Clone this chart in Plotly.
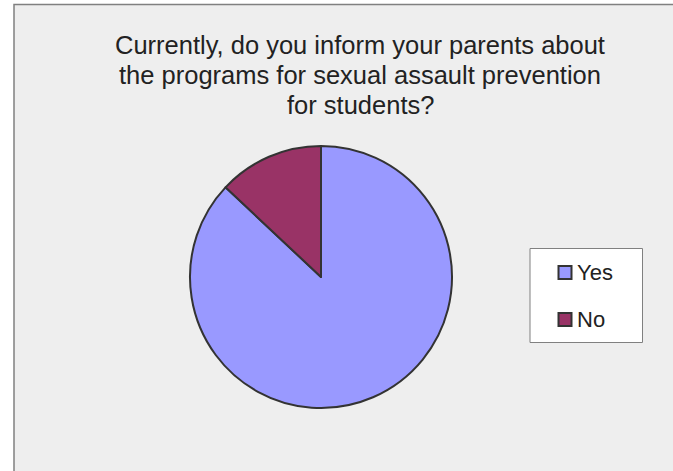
import plotly.graph_objects as go

labels = ["Yes", "No"]
values = [87, 13]
colors = ["#9999FF", "#993366"]
title_lines = ["Currently, do you inform your parents about",
               "the programs for sexual assault prevention",
               "for students?"]

W, H = 673, 471
def px(x): return x / W
def py(y): return 1 - y / H

fig = go.Figure()
fig.add_trace(go.Pie(
    labels=labels, values=values, sort=False, direction="clockwise", rotation=0,
    marker=dict(colors=colors, line=dict(color="#333333", width=2)),
    textinfo="none", hoverinfo="label+percent", showlegend=False,
    domain=dict(x=[px(190), px(452)], y=[py(408), py(146)]),
))

shapes = [
    dict(type="rect", xref="paper", yref="paper", x0=px(14), x1=1.05, y0=-0.05, y1=py(4.5),
         fillcolor="#EEEEEE", line=dict(color="#808080", width=1.5), layer="below"),
    dict(type="rect", xref="paper", yref="paper", x0=px(530), x1=px(642.5), y0=py(342.5), y1=py(248.5),
         fillcolor="#FFFFFF", line=dict(color="#808080", width=1), layer="below"),
]
annotations = []
item_y = [272.5, 319.5]
for lab, col, yy in zip(labels, colors, item_y):
    shapes.append(dict(type="rect", xref="paper", yref="paper",
                       x0=px(558.5), x1=px(571.5), y0=py(yy + 6.5), y1=py(yy - 6.5),
                       fillcolor=col, line=dict(color="#333333", width=2)))
    annotations.append(dict(text=lab, xref="paper", yref="paper", x=px(575), y=py(yy),
                            xanchor="left", yanchor="middle", showarrow=False,
                            font=dict(family="Liberation Sans, Arial", size=22, color="#222222")))

title_y = [45.5, 75, 104.5]
for line, yy in zip(title_lines, title_y):
    annotations.append(dict(text=line, xref="paper", yref="paper", x=px(360), y=py(yy),
                            xanchor="center", yanchor="middle", showarrow=False,
                            font=dict(family="Liberation Sans, Arial", size=25.5, color="#222222")))

fig.update_layout(
    width=W, height=H, margin=dict(l=0, r=0, t=0, b=0),
    paper_bgcolor="#FFFFFF",
    shapes=shapes, annotations=annotations, showlegend=False,
)
fig.write_html("out.html")
